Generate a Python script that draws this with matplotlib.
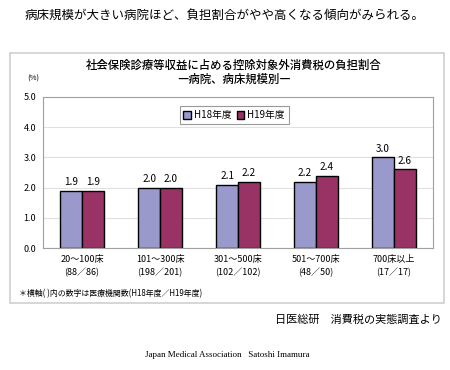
import matplotlib.pyplot as plt
import matplotlib.patches as mpatches
import numpy as np

plt.rcParams['font.family'] = ['Noto Sans CJK JP', 'DejaVu Sans']

categories = ['20～100床\n(88／86)', '101～300床\n(198／201)', '301～500床\n(102／102)',
              '501～700床\n(48／50)', '700床以上\n(17／17)']
h18 = [1.9, 2.0, 2.1, 2.2, 3.0]
h19 = [1.9, 2.0, 2.2, 2.4, 2.6]
series_names = ['H18年度', 'H19年度']

W, H = 450, 370
fig = plt.figure(figsize=(4.5, 3.7), dpi=100)

def fx(px):
    return px / W

def fy(py):
    return 1 - py / H

# outer panel box
panel = mpatches.Rectangle((fx(10), fy(303)), fx(444) - fx(10), fy(53) - fy(303),
                           transform=fig.transFigure, fill=False, edgecolor='#d0d0d0', lw=1.2)
fig.patches.append(panel)

ax = fig.add_axes([fx(43), fy(248), fx(433) - fx(43), fy(97) - fy(248)])
x = np.arange(len(categories))
bw = 0.28
b1 = ax.bar(x - bw / 2, h18, bw, color='#9999cc', edgecolor='black', lw=1.0, label=series_names[0])
b2 = ax.bar(x + bw / 2, h19, bw, color='#993366', edgecolor='black', lw=1.0, label=series_names[1])
for bars, vals in ((b1, h18), (b2, h19)):
    for b, v in zip(bars, vals):
        ax.text(b.get_x() + b.get_width() / 2, v + 0.12, f'{v:.1f}', ha='center', va='bottom', fontsize=7.2)

ax.set_xlim(-0.5, 4.5)
ax.set_ylim(0, 5)
ax.set_yticks([0, 1, 2, 3, 4, 5])
ax.set_yticklabels([f'{v:.1f}' for v in range(6)], fontsize=6.5)
ax.set_xticks(x)
ax.set_xticklabels(categories, fontsize=6.5, linespacing=1.5)
ax.tick_params(length=0, pad=5)
ax.grid(axis='y', color='#e0e0e0', lw=0.8)
ax.set_axisbelow(True)
for s in ax.spines.values():
    s.set_color('#a0a0a0')
    s.set_linewidth(0.8)

leg = ax.legend(loc='upper center', bbox_to_anchor=(0.49, 0.97), ncol=2, fontsize=7,
                frameon=True, fancybox=False, edgecolor='#808080', handlelength=0.8,
                handleheight=0.8, handletextpad=0.3, columnspacing=0.5, borderpad=0.4)
leg.get_frame().set_linewidth(0.8)

fig.text(fx(25), fy(15), '病床規模が大きい病院ほど、負担割合がやや高くなる傾向がみられる。',
         fontsize=9, ha='left', va='center')
fig.text(fx(234), fy(65), '社会保険診療等収益に占める控除対象外消費税の負担割合',
         fontsize=8.2, ha='center', va='center', fontweight='medium')
fig.text(fx(234), fy(79), '―病院、病床規模別―', fontsize=8.2, ha='center', va='center',
         fontweight='medium')
fig.text(fx(33), fy(79), '(%)', fontsize=5.5, ha='center', va='center')
fig.text(fx(19), fy(294), '＊横軸( )内の数字は医療機関数(H18年度／H19年度)', fontsize=5.7,
         ha='left', va='center')
fig.text(fx(442), fy(320), '日医総研　消費税の実態調査より', fontsize=8, ha='right', va='center')
fig.text(fx(227), fy(355), 'Japan Medical Association   Satoshi Imamura', fontsize=6.5,
         ha='center', va='center', family='Liberation Serif')

fig.savefig('out.png', dpi=100)
